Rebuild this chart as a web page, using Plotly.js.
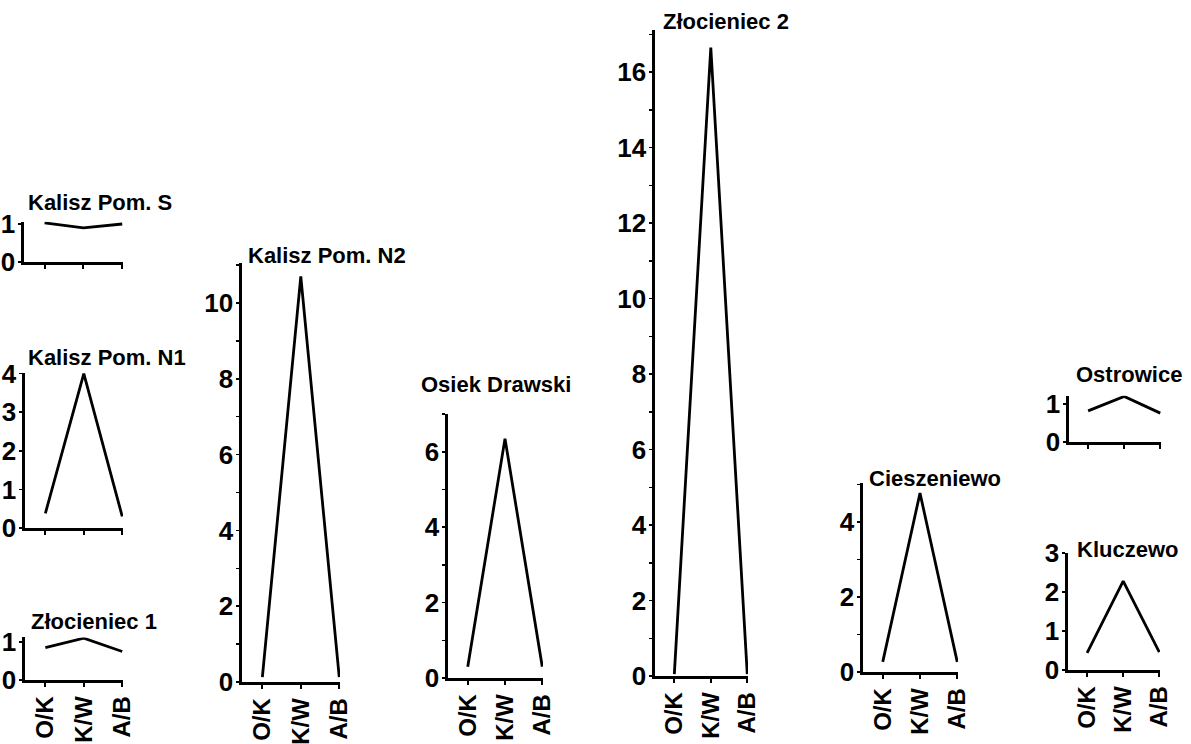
<!DOCTYPE html>
<html>
<head>
<meta charset="utf-8">
<script src="https://cdn.plot.ly/plotly-3.0.1.min.js"></script>
<style>html,body{margin:0;padding:0;background:#fff}#chart{width:1191px;height:744px}</style>
</head>
<body>
<div id="chart"></div>
<script>
// ---- data ----
const categories = ['O/K', 'K/W', 'A/B'];
const siteNames = ['Kalisz Pom. S', 'Kalisz Pom. N1', 'Złocieniec 1', 'Kalisz Pom. N2',
                   'Osiek Drawski', 'Złocieniec 2', 'Cieszeniewo', 'Ostrowice', 'Kluczewo'];
const kaliszS      = [1.03, 0.9, 1.0];
const kaliszN1     = [0.38, 4.0, 0.3];
const zlocieniec1  = [0.85, 1.1, 0.75];
const kaliszN2     = [0.13, 10.7, 0.13];
const osiekDrawski = [0.3, 6.35, 0.3];
const zlocieniec2  = [0.05, 16.65, 0.05];
const cieszeniewo  = [0.27, 4.77, 0.27];
const ostrowice    = [0.82, 1.2, 0.76];
const kluczewo     = [0.44, 2.28, 0.46];
const seriesValues = [kaliszS, kaliszN1, zlocieniec1, kaliszN2, osiekDrawski,
                      zlocieniec2, cieszeniewo, ostrowice, kluczewo];
const yAxisMax  = [1.06, 4.02, 1.12, 11.05, 7.0, 17.1, 5.05, 1.22, 3.0];
const yTickStep = [1, 1, 1, 2, 2, 2, 2, 1, 1];
const showXLabels = [false, false, true, true, true, true, true, false, true];

// ---- layout (pixel placement of each small panel) ----
const W = 1191, H = 744;
const panelBox = [
  // x0, x1 (axis px), yBase (px of y=0), px per unit, title x, title y
  [24, 123, 262, 38.0, 26, 203],
  [25, 123, 528, 38.6, 26, 357],
  [25, 123, 680, 38.0, 29, 621],
  [242, 340, 682, 37.9, 246, 255],
  [448, 543, 678, 37.7, 419, 384],
  [655, 748, 676, 37.75, 661, 22],
  [863, 958, 672, 37.5, 867, 478],
  [1069, 1161, 442, 38.0, 1074, 374],
  [1068, 1160, 670, 39.0, 1075, 549]
];

const FONT = 'Liberation Sans, Arial, sans-serif';
const traces = [];
const layout = {
  width: W, height: H,
  margin: {l: 0, r: 0, t: 0, b: 0},
  paper_bgcolor: '#fff', plot_bgcolor: '#fff',
  showlegend: false,
  font: {family: FONT, color: '#000', size: 22},
  annotations: []
};

seriesValues.forEach((vals, i) => {
  const n = i + 1;
  const xa = 'x' + n, ya = 'y' + n;
  traces.push({
    x: [0, 1, 2], y: vals, xaxis: xa, yaxis: ya,
    type: 'scatter', mode: 'lines',
    line: {color: '#000', width: 2.8},
    hoverinfo: 'skip'
  });
  const [x0, x1, yb, ppu, tx, ty] = panelBox[i];
  const ytop = yb - yAxisMax[i] * ppu;
  layout['xaxis' + n] = {
    domain: [x0 / W, x1 / W], anchor: ya, range: [-0.53, 2.02],
    showgrid: false, zeroline: false, showline: true, linecolor: '#000', linewidth: 2.6,
    ticks: 'outside', ticklen: 4, tickwidth: 2, tickcolor: '#000',
    tickvals: [0, 1, 2], ticktext: categories,
    showticklabels: showXLabels[i], tickangle: -90, ticklabelstandoff: 0,
    tickfont: {family: FONT, size: 24, color: '#000', weight: 'bold'}, fixedrange: true
  };
  const yax = {
    domain: [(H - yb) / H, (H - ytop) / H], anchor: xa, range: [0, yAxisMax[i]],
    showgrid: false, zeroline: false, showline: true, linecolor: '#000', linewidth: 2.6,
    ticks: 'outside', ticklen: 3, tickwidth: 1.5, tickcolor: '#000',
    tick0: 0, dtick: yTickStep[i], ticklabelstandoff: -2,
    tickfont: {family: FONT, size: 26, color: '#000', weight: 'bold'}, fixedrange: true
  };
  if (yTickStep[i] === 2) {
    yax.minor = {dtick: 1, ticks: 'outside', ticklen: 3, tickwidth: 1.5, tickcolor: '#000', showgrid: false};
  }
  layout['yaxis' + n] = yax;
  layout.annotations.push({
    xref: 'paper', yref: 'paper', x: tx / W, y: (H - ty) / H,
    xanchor: 'left', yanchor: 'middle', showarrow: false,
    text: siteNames[i], font: {family: FONT, size: 22, color: '#000', weight: 'bold'}
  });
});

Plotly.newPlot('chart', traces, layout, {staticPlot: true, displayModeBar: false});
</script>
</body>
</html>
